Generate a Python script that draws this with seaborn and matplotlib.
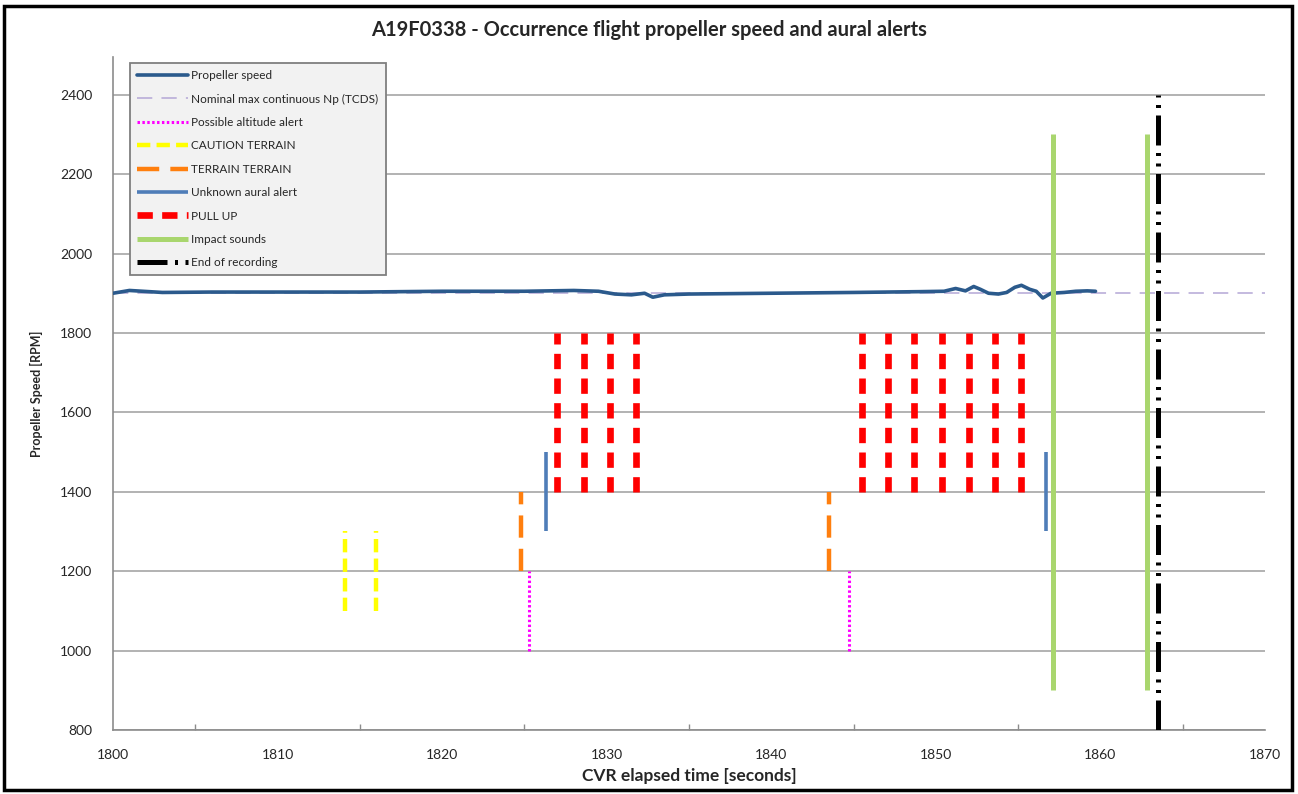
import matplotlib.pyplot as plt
import matplotlib.patches as mpatches
import seaborn as sns
import pandas as pd

# Propeller speed trace
speed_t = [1800, 1801, 1803, 1806, 1810, 1815, 1820, 1825, 1828, 1829.5, 1830.5,
           1831.5, 1832.3, 1832.8, 1833.5, 1835, 1840, 1845, 1849, 1850.5, 1851.2,
           1851.8, 1852.3, 1852.7, 1853.2, 1853.8, 1854.3, 1854.8, 1855.2, 1855.7,
           1856.1, 1856.5, 1857, 1857.8, 1858.5, 1859.2, 1859.7]
speed_rpm = [1900, 1907, 1902, 1903, 1903, 1903, 1905, 1905, 1907, 1905, 1898,
             1896, 1900, 1890, 1896, 1898, 1900, 1902, 1904, 1905, 1912,
             1906, 1917, 1910, 1900, 1898, 1902, 1915, 1920, 1910,
             1905, 1888, 1900, 1902, 1905, 1906, 1905]

nominal_np = 1900
nominal_range = [1800, 1870]

# Aural alerts: time, low, high
altitude_t = [1825.3, 1844.7]
altitude_y = [1000, 1200]
caution_t = [1814.1, 1816.0]
caution_y = [1100, 1300]
terrain_t = [1824.8, 1843.5]
terrain_y = [1200, 1400]
unknown_t = [1826.3, 1856.7]
unknown_y = [1300, 1500]
pullup_t = [1827.0, 1828.6, 1830.2, 1831.8,
            1845.5, 1847.1, 1848.7, 1850.4, 1852.0, 1853.6, 1855.2]
pullup_y = [1400, 1800]
impact_t = [1857.1, 1862.8]
impact_y = [900, 2300]
end_t = [1863.5]
end_y = [800, 2400]

sns.set_theme(style="white")
plt.rcParams['font.family'] = ['Lato', 'DejaVu Sans']

fig = plt.figure(figsize=(12.98, 7.94), dpi=100)
ax = fig.add_axes([113 / 1298, 64 / 794, (1265 - 113) / 1298, (730 - 57) / 794])

df = pd.DataFrame({'t': speed_t, 'rpm': speed_rpm})

ax.plot(nominal_range, [nominal_np, nominal_np], color='#b4a7d6', lw=1.1,
        linestyle=(0, (10, 6)), label='Nominal max continuous Np (TCDS)', zorder=2)
sns.lineplot(data=df, x='t', y='rpm', ax=ax, color='#2b5a8c', lw=2.6,
             label='Propeller speed', zorder=3)

ax.vlines(altitude_t, *altitude_y, color='#ff00ff', lw=2.2,
          linestyle=(0, (0.8, 0.8)), label='Possible altitude alert', zorder=4)
ax.vlines(caution_t, *caution_y, color='#ffff00', lw=3.2,
          linestyle=(0, (3, 1.4)), label='CAUTION TERRAIN', zorder=4)
ax.vlines(terrain_t, *terrain_y, color='#ff7f0e', lw=3.2,
          linestyle=(0, (5, 2.5)), label='TERRAIN TERRAIN', zorder=4)
ax.vlines(unknown_t, *unknown_y, color='#4f7db8', lw=2.6,
          label='Unknown aural alert', zorder=4)
ax.vlines(pullup_t, *pullup_y, color='#ff0000', lw=4.8,
          linestyle=(0, (2.3, 1.4)), label='PULL UP', zorder=4)
ax.vlines(impact_t, *impact_y, color='#a9d66e', lw=3.6,
          label='Impact sounds', zorder=5)
ax.vlines(end_t, *end_y, color='black', lw=3.6,
          linestyle=(0, (6, 1.5, 0.6, 1.5, 0.6, 1.5)), label='End of recording', zorder=6)

ax.set_xlim(1800, 1870)
ax.set_ylim(800, 2495)
ax.set_xticks(range(1800, 1871, 10))
ax.set_xticks(range(1805, 1870, 10), minor=True)
ax.set_yticks(range(800, 2401, 200))
ax.yaxis.grid(True, color='#a6a6a6', lw=1.2)
ax.xaxis.grid(False)
for side in ['top', 'right']:
    ax.spines[side].set_visible(False)
for side in ['left', 'bottom']:
    ax.spines[side].set_color('#8c8c8c')
    ax.spines[side].set_linewidth(1.2)
ax.tick_params(axis='y', which='major', direction='out', color='#8c8c8c',
               labelsize=10, length=7, width=1, pad=8)
ax.tick_params(axis='x', which='major', direction='inout', color='#8c8c8c',
               labelsize=10, length=8, width=1, pad=10)
ax.tick_params(axis='x', which='minor', direction='in', color='#8c8c8c',
               length=4, width=1, bottom=True)

ax.set_xlabel('CVR elapsed time [seconds]', fontsize=12.5, fontweight='bold', labelpad=5)
ax.set_ylabel('Propeller Speed [RPM]', fontsize=9, fontweight='bold', labelpad=12)

# Legend order as in the reference
handles, labels = ax.get_legend_handles_labels()
order = ['Propeller speed', 'Nominal max continuous Np (TCDS)', 'Possible altitude alert',
         'CAUTION TERRAIN', 'TERRAIN TERRAIN', 'Unknown aural alert', 'PULL UP',
         'Impact sounds', 'End of recording']
lookup = dict(zip(labels, handles))
leg = ax.legend([lookup[k] for k in order], order, loc='upper left',
                bbox_to_anchor=(130 / 1298, 1 - 63 / 794), bbox_transform=fig.transFigure,
                fontsize=8.5, frameon=True, fancybox=False, handlelength=4.3,
                labelspacing=1.05, borderpad=0.6, handletextpad=0.3, borderaxespad=0)
leg.get_frame().set_facecolor('#f2f2f2')
leg.get_frame().set_edgecolor('#7f7f7f')
leg.get_frame().set_linewidth(1.3)
leg.get_frame().set_alpha(1)
leg.set_zorder(10)

fig.text(0.5, 1 - 30 / 794, 'A19F0338 - Occurrence flight propeller speed and aural alerts',
         ha='center', va='center', fontsize=14.5, fontweight='bold')

fig.patches.append(mpatches.Rectangle((4 / 1298, 4 / 794), 1 - 10 / 1298, 1 - 10 / 794,
                                      transform=fig.transFigure, fill=False,
                                      edgecolor='black', lw=2.5))

fig.savefig('out.png', dpi=100, facecolor='white')
